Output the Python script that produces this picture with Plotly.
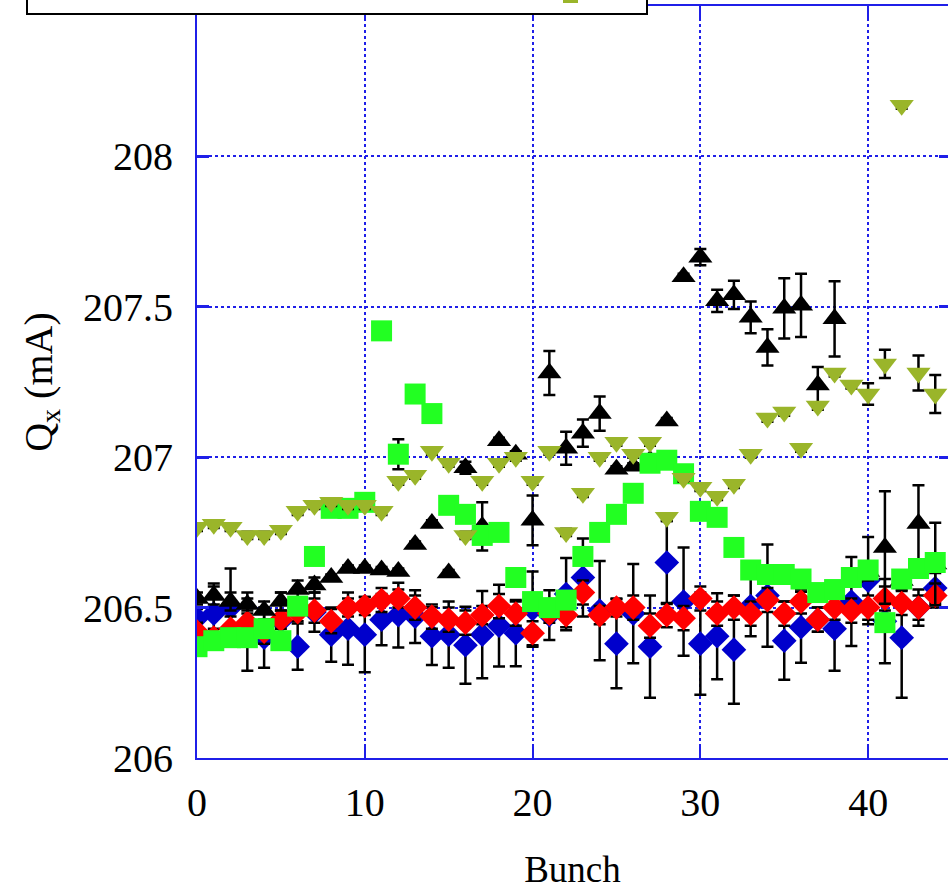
import plotly.graph_objects as go

bunch = list(range(45))

# Black triangles (up)
black_y = [206.53, 206.54, 206.52, 206.51, 206.49, 206.52, 206.56, 206.575, 206.60, 206.63,
           206.63, 206.625, 206.62, 206.71, 206.78, 206.615, 206.965, 206.77, 207.055, 207.01,
           206.79, 207.28, 207.03, 207.08, 207.145, 206.96, 206.97, 206.99, 207.12, 207.60,
           207.665, 207.52, 207.54, 207.465, 207.365, 207.495, 207.505, 207.24, 207.46, 206.60,
           206.62, 206.70, 206.59, 206.78, 206.645]
black_err = [0.02, 0.03, 0.03, 0.02, 0.03, 0.03, 0.03, 0.025, 0.01, 0.01,
             0.01, 0.01, 0.01, 0.01, 0.01, 0.01, 0.02, 0.08, 0.01, 0.01,
             0.083, 0.073, 0.055, 0.045, 0.057, 0.01, 0.01, 0.01, 0.01, 0.01,
             0.027, 0.037, 0.047, 0.053, 0.06, 0.10, 0.105, 0.06, 0.125, 0.03,
             0.03, 0.187, 0.03, 0.127, 0.137]

# Blue diamonds
blue_y = [206.465, 206.48, 206.50, 206.42, 206.40, 206.455, 206.37, 206.485, 206.41, 206.43,
          206.41, 206.46, 206.475, 206.47, 206.405, 206.41, 206.375, 206.41, 206.44, 206.415,
          206.495, 206.475, 206.545, 206.60, 206.49, 206.38, 206.48, 206.37, 206.65, 206.52,
          206.38, 206.405, 206.36, 206.505, 206.54, 206.39, 206.435, 206.46, 206.43, 206.52,
          206.59, 206.455, 206.40, 206.50, 206.565]
blue_err = [0.03, 0.10, 0.13, 0.13, 0.10, 0.095, 0.077, 0.065, 0.09, 0.12,
            0.125, 0.085, 0.108, 0.088, 0.096, 0.11, 0.128, 0.145, 0.136, 0.11,
            0.125, 0.083, 0.12, 0.13, 0.165, 0.148, 0.165, 0.17, 0.138, 0.18,
            0.17, 0.143, 0.18, 0.10, 0.17, 0.13, 0.118, 0.04, 0.14, 0.148,
            0.145, 0.14, 0.20, 0.06, 0.05]

# Red diamonds
red_y = [206.42, 206.40, 206.43, 206.45, 206.42, 206.46, 206.485, 206.49, 206.455, 206.50,
         206.505, 206.525, 206.53, 206.50, 206.47, 206.46, 206.45, 206.475, 206.505, 206.48,
         206.415, 206.48, 206.475, 206.55, 206.475, 206.50, 206.50, 206.44, 206.475, 206.465,
         206.53, 206.48, 206.50, 206.48, 206.525, 206.48, 206.52, 206.46, 206.50, 206.49,
         206.50, 206.53, 206.515, 206.50, 206.54]
red_err = [0.03, 0.03, 0.04, 0.03, 0.04, 0.03, 0.03, 0.04, 0.04, 0.03,
           0.03, 0.04, 0.03, 0.04, 0.04, 0.04, 0.04, 0.03, 0.04, 0.04,
           0.04, 0.03, 0.04, 0.04, 0.03, 0.03, 0.04, 0.04, 0.04, 0.04,
           0.04, 0.04, 0.04, 0.04, 0.04, 0.04, 0.04, 0.04, 0.04, 0.04,
           0.04, 0.04, 0.04, 0.04, 0.04]

# Green squares
green_y = [206.37, 206.39, 206.40, 206.40, 206.43, 206.39, 206.505, 206.67, 206.83, 206.83,
           206.85, 207.42, 207.01, 207.21, 207.145, 206.84, 206.81, 206.74, 206.75, 206.60,
           206.52, 206.50, 206.525, 206.67, 206.75, 206.81, 206.88, 206.98, 206.99, 206.945,
           206.82, 206.80, 206.70, 206.625, 206.61, 206.61, 206.595, 206.55, 206.56, 206.60,
           206.625, 206.45, 206.595, 206.63, 206.65]
green_err = [0.0] * 12 + [0.05] + [0.0] * 32

# Olive triangles (down)
olive_y = [206.767, 206.777, 206.767, 206.74, 206.74, 206.757, 206.82, 206.84, 206.85, 206.84,
           206.84, 206.82, 206.92, 206.94, 207.02, 206.98, 206.74, 206.92, 206.98, 207.0,
           206.92, 207.02, 206.75, 206.88, 207.0, 207.05, 207.01, 207.05, 206.80, 206.93,
           206.90, 206.87, 206.91, 207.01, 207.13, 207.15, 207.03, 207.17, 207.28, 207.24,
           207.21, 207.31, 208.17, 207.28, 207.21]
olive_err = [0.012] * 40 + [0.036, 0.047, 0.012, 0.058, 0.063]

y_ticks = [206, 206.5, 207, 207.5, 208, 208.5]
x_ticks = [0, 10, 20, 30, 40]

AX = "#1f1fe8"
FONT = "Liberation Serif"

def err(arr):
    return dict(type="data", array=arr, visible=True, color="black", thickness=2.5, width=6)

fig = go.Figure()
fig.add_trace(go.Scatter(x=bunch, y=blue_y, mode="markers", error_y=err(blue_err),
                         marker=dict(symbol="diamond", size=19, color="#0000cc", line=dict(width=0)),
                         name="blue"))
fig.add_trace(go.Scatter(x=bunch, y=red_y, mode="markers", error_y=err(red_err),
                         marker=dict(symbol="diamond", size=19, color="#ff0000", line=dict(width=0)),
                         name="red"))
fig.add_trace(go.Scatter(x=bunch, y=black_y, mode="markers", error_y=err(black_err),
                         marker=dict(symbol="triangle-up", size=21, color="black", line=dict(width=0)),
                         name="black"))
fig.add_trace(go.Scatter(x=bunch, y=green_y, mode="markers", error_y=err(green_err),
                         marker=dict(symbol="square", size=21, color="#22ff22", line=dict(width=0)),
                         name="green"))
fig.add_trace(go.Scatter(x=bunch, y=olive_y, mode="markers", error_y=err(olive_err),
                         marker=dict(symbol="triangle-down", size=21, color="#9ab52a", line=dict(width=0)),
                         name="olive"))
# invisible helper trace for right-side tick marks
fig.add_trace(go.Scatter(x=[bunch[0]], y=[y_ticks[0]], yaxis="y2", mode="markers",
                         marker=dict(opacity=0), hoverinfo="skip", showlegend=False))

W, H = 948, 890
L, R, T, B = 197, 0, 6, 132
pw, ph = W - L - R, H - T - B

def px_x(p):
    return (p - L) / pw

def px_y(p):
    return (H - B - p) / ph

fig.update_layout(
    width=W, height=H,
    margin=dict(l=L, r=R, t=T, b=B),
    paper_bgcolor="white", plot_bgcolor="white",
    showlegend=False,
    font=dict(family=FONT, color="black"),
    xaxis=dict(range=[0, 44.76], tickvals=x_ticks, showgrid=True, gridcolor=AX, griddash="dot",
               gridwidth=1.5, showline=True, linecolor=AX, linewidth=2, mirror="ticks",
               ticks="inside", ticklen=14, tickwidth=2, tickcolor=AX, zeroline=False,
               tickfont=dict(size=40, family=FONT), ticklabelstandoff=8,
               title=dict(text="Bunch", font=dict(size=37, family=FONT), standoff=34)),
    yaxis=dict(range=[206, 208.5], tickvals=y_ticks, showgrid=True, gridcolor=AX, griddash="dot",
               gridwidth=1.5, showline=True, linecolor=AX, linewidth=2, mirror=False,
               ticks="inside", ticklen=12, tickwidth=3, tickcolor=AX, zeroline=False,
               tickfont=dict(size=40, family=FONT), ticklabelstandoff=14,
               title=dict(text="Q<sub>x</sub> (mA)", font=dict(size=40, family=FONT), standoff=18)),
    yaxis2=dict(range=[206, 208.5], tickvals=y_ticks, overlaying="y", side="right",
                showgrid=False, showline=False, showticklabels=False, zeroline=False,
                ticks="inside", ticklen=9, tickwidth=3, tickcolor=AX),
    shapes=[
        dict(type="rect", xref="paper", yref="paper", x0=px_x(27), x1=px_x(647),
             y0=px_y(14), y1=px_y(-40), line=dict(color="black", width=2),
             fillcolor="white", layer="above"),
        dict(type="rect", xref="paper", yref="paper", x0=px_x(563), x1=px_x(578),
             y0=px_y(3), y1=px_y(-14), line=dict(width=0),
             fillcolor="#9ab52a", layer="above"),
    ],
)

fig.write_html("out.html")
